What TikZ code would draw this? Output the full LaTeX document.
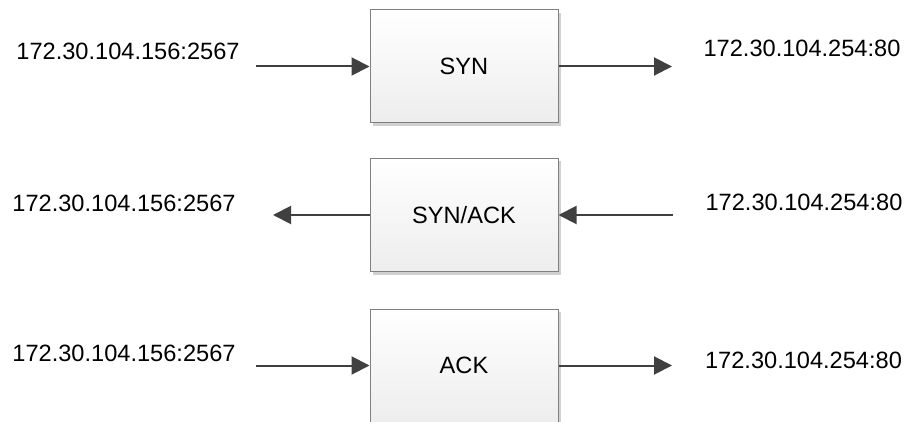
\documentclass[tikz,border=0pt]{standalone}
\usepackage{fontspec}
\setmainfont{Liberation Sans}
\usetikzlibrary{arrows.meta,shadows}
\tikzset{every node/.style={font=\fontsize{11.8}{14}\selectfont},
  packet/.style={draw=black!50, line width=0.5pt, top color=white,
    bottom color=black!7, minimum width=94pt, minimum height=56.5pt,
    drop shadow={shadow xshift=1.5pt, shadow yshift=-1.5pt, fill=black!18, opacity=1}},
  flow/.style={draw=black!75, line width=1pt,
    -{Triangle[length=9pt,width=9pt]}},
  addr/.style={inner sep=0pt}}
\begin{document}
\begin{tikzpicture}[x=0.5pt,y=-0.5pt]
  \useasboundingbox (0,0) rectangle (909,422);
  \clip (0,0) rectangle (909,422);
  % packets
  \node[packet] (syn) at (464,66.5) {SYN};
  \node[packet] (synack) at (464,215) {SYN/ACK};
  \node[packet] (ack) at (464,365.5) {ACK};
  % addresses
  \node[addr] (c1) at (128,51.5) {172.30.104.156:2567};
  \node[addr] (s1) at (802,48.5) {172.30.104.254:80};
  \node[addr] (c2) at (124,203) {172.30.104.156:2567};
  \node[addr] (s2) at (804,202) {172.30.104.254:80};
  \node[addr] (c3) at (124,353.5) {172.30.104.156:2567};
  \node[addr] (s3) at (803.5,360) {172.30.104.254:80};
  % free ends of the arrows
  \coordinate (a1) at (256,66.5);
  \coordinate (b1) at (672,66.5);
  \coordinate (a2) at (273,215);
  \coordinate (b2) at (673,215);
  \coordinate (a3) at (256,365.5);
  \coordinate (b3) at (672,365.5);
  \draw[flow] (a1) -- (syn.west);
  \draw[flow] (syn.east) -- (b1);
  \draw[flow] (synack.west) -- (a2);
  \draw[flow] (b2) -- (synack.east);
  \draw[flow] (a3) -- (ack.west);
  \draw[flow] (ack.east) -- (b3);
\end{tikzpicture}
\end{document}
